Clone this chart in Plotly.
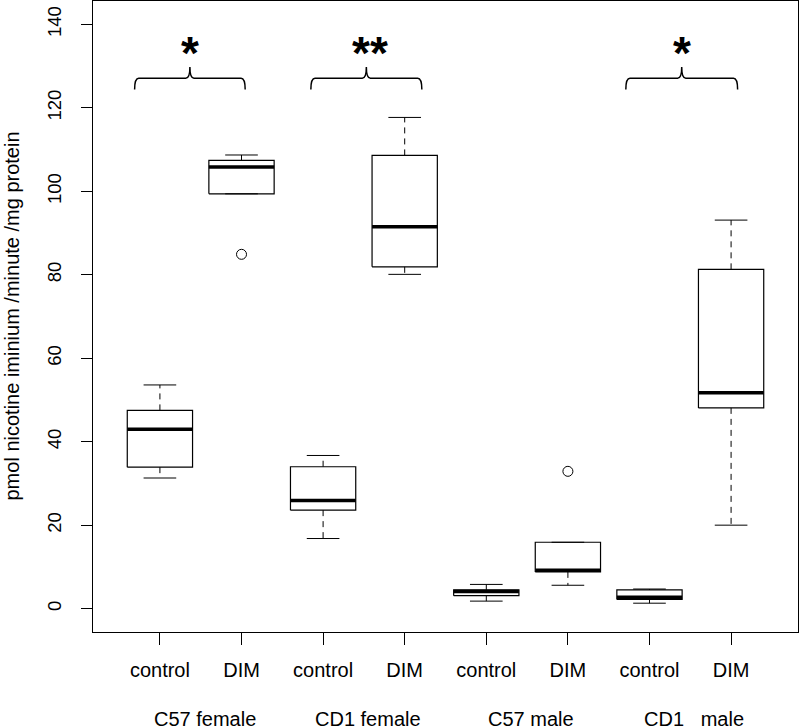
import plotly.graph_objects as go

# summary statistics, one entry per box
box_labels = ["control", "DIM", "control", "DIM", "control", "DIM", "control", "DIM"]
group_labels = ["C57 female", "CD1 female", "C57 male", "CD1\u00a0\u00a0\u00a0male"]
lower_whisker = [31.3, 99.4, 16.8, 80.1, 1.8, 5.6, 1.3, 20.0]
q1 = [33.9, 99.4, 23.6, 81.9, 3.1, 8.8, 2.2, 48.1]
median = [43.0, 105.8, 25.9, 91.5, 4.1, 9.2, 2.7, 51.7]
q3 = [47.5, 107.4, 34.0, 108.6, 4.5, 15.9, 4.5, 81.3]
upper_whisker = [53.6, 108.7, 36.7, 117.7, 5.8, 15.9, 4.7, 93.1]

# outliers: box number (1-based) and value
outlier_box = [2, 6]
outlier_value = [84.9, 32.9]

# significance marks between box pairs
sig_text = ["*", "**", "*"]
sig_left = [0.69, 2.85, 6.71]
sig_right = [2.045, 4.21, 8.08]
sig_star_x = [1.37, 3.57, 7.40]

FONT = "Liberation Sans, Arial, sans-serif"
half = 0.4   # half box width
cap = 0.2    # half cap width

pos = list(range(1, len(median) + 1))

bx, by, mx, my, wx, wy, cx, cy = [], [], [], [], [], [], [], []
for p, lo, a, m, b, hi in zip(pos, lower_whisker, q1, median, q3, upper_whisker):
    bx += [p - half, p + half, p + half, p - half, p - half, None]
    by += [a, a, b, b, a, None]
    mx += [p - half, p + half, None]
    my += [m, m, None]
    wx += [p, p, None, p, p, None]
    wy += [b, hi, None, a, lo, None]
    cx += [p - cap, p + cap, None, p - cap, p + cap, None]
    cy += [hi, hi, None, lo, lo, None]

fig = go.Figure()
fig.add_trace(go.Scatter(x=wx, y=wy, mode="lines",
                         line=dict(color="black", width=1, dash="6px,5px")))
fig.add_trace(go.Scatter(x=cx, y=cy, mode="lines", line=dict(color="black", width=1)))
fig.add_trace(go.Scatter(x=bx, y=by, mode="lines", line=dict(color="black", width=1.2)))
fig.add_trace(go.Scatter(x=mx, y=my, mode="lines", line=dict(color="black", width=3.5)))
fig.add_trace(go.Scatter(x=outlier_box, y=outlier_value, mode="markers",
                         marker=dict(symbol="circle-open", size=10, color="black",
                                     line=dict(width=1))))

# curly brackets with stars
y_end, y_h, y_tip, r = 124.4, 127.1, 129.8, 0.05
shapes = []
annotations = []
for t, x0, x1, xs in zip(sig_text, sig_left, sig_right, sig_star_x):
    xm = (x0 + x1) / 2
    path = (f"M {x0},{y_end} Q {x0},{y_h} {x0 + r},{y_h} L {xm - r},{y_h} "
            f"Q {xm},{y_h} {xm},{y_tip} Q {xm},{y_h} {xm + r},{y_h} "
            f"L {x1 - r},{y_h} Q {x1},{y_h} {x1},{y_end}")
    shapes.append(dict(type="path", path=path, xref="x", yref="y",
                       line=dict(color="black", width=1.5)))
    annotations.append(dict(x=xs, y=133.2, xref="x", yref="y", text=f"<b>{t}</b>",
                            showarrow=False, yanchor="middle",
                            font=dict(family=FONT, size=46, color="black")))

for i, g in enumerate(group_labels):
    annotations.append(dict(x=(pos[2 * i] + pos[2 * i + 1]) / 2 + 0.05, y=0,
                            xref="x", yref="paper", yshift=-87, text=g,
                            showarrow=False, yanchor="middle",
                            font=dict(family=FONT, size=20, color="black")))

annotations.append(dict(x=0, y=0.5, xref="paper", yref="paper", xshift=-82,
                        text="pmol nicotine iminium /minute /mg protein",
                        textangle=-90, showarrow=False, xanchor="center", yanchor="middle",
                        font=dict(family=FONT, size=20, color="black")))

fig.update_layout(
    width=800, height=726,
    margin=dict(l=93, r=2, t=1, b=94, autoexpand=False),
    plot_bgcolor="white", paper_bgcolor="white",
    showlegend=False,
    shapes=shapes, annotations=annotations,
    xaxis=dict(range=[0.18, 8.82], tickvals=pos, ticktext=box_labels,
               ticks="outside", ticklen=12, tickcolor="black", tickwidth=1,
               showline=True, mirror=True, linecolor="black", linewidth=1,
               showgrid=False, zeroline=False, ticklabelstandoff=8, automargin=False,
               tickfont=dict(family=FONT, size=20, color="black")),
    yaxis=dict(range=[-5.6, 145.6], tickvals=list(range(0, 141, 20)), tickangle=-90,
               ticks="outside", ticklen=11, tickcolor="black", tickwidth=1,
               showline=True, mirror=True, linecolor="black", linewidth=1,
               showgrid=False, zeroline=False, ticklabelstandoff=13, automargin=False,
               tickfont=dict(family=FONT, size=18.5, color="black")),
)

# drop the page's default body margin so the figure sits at the window corner
fig.write_html("out.html", config={"displayModeBar": False},
               post_script="document.body.style.margin='0';")
